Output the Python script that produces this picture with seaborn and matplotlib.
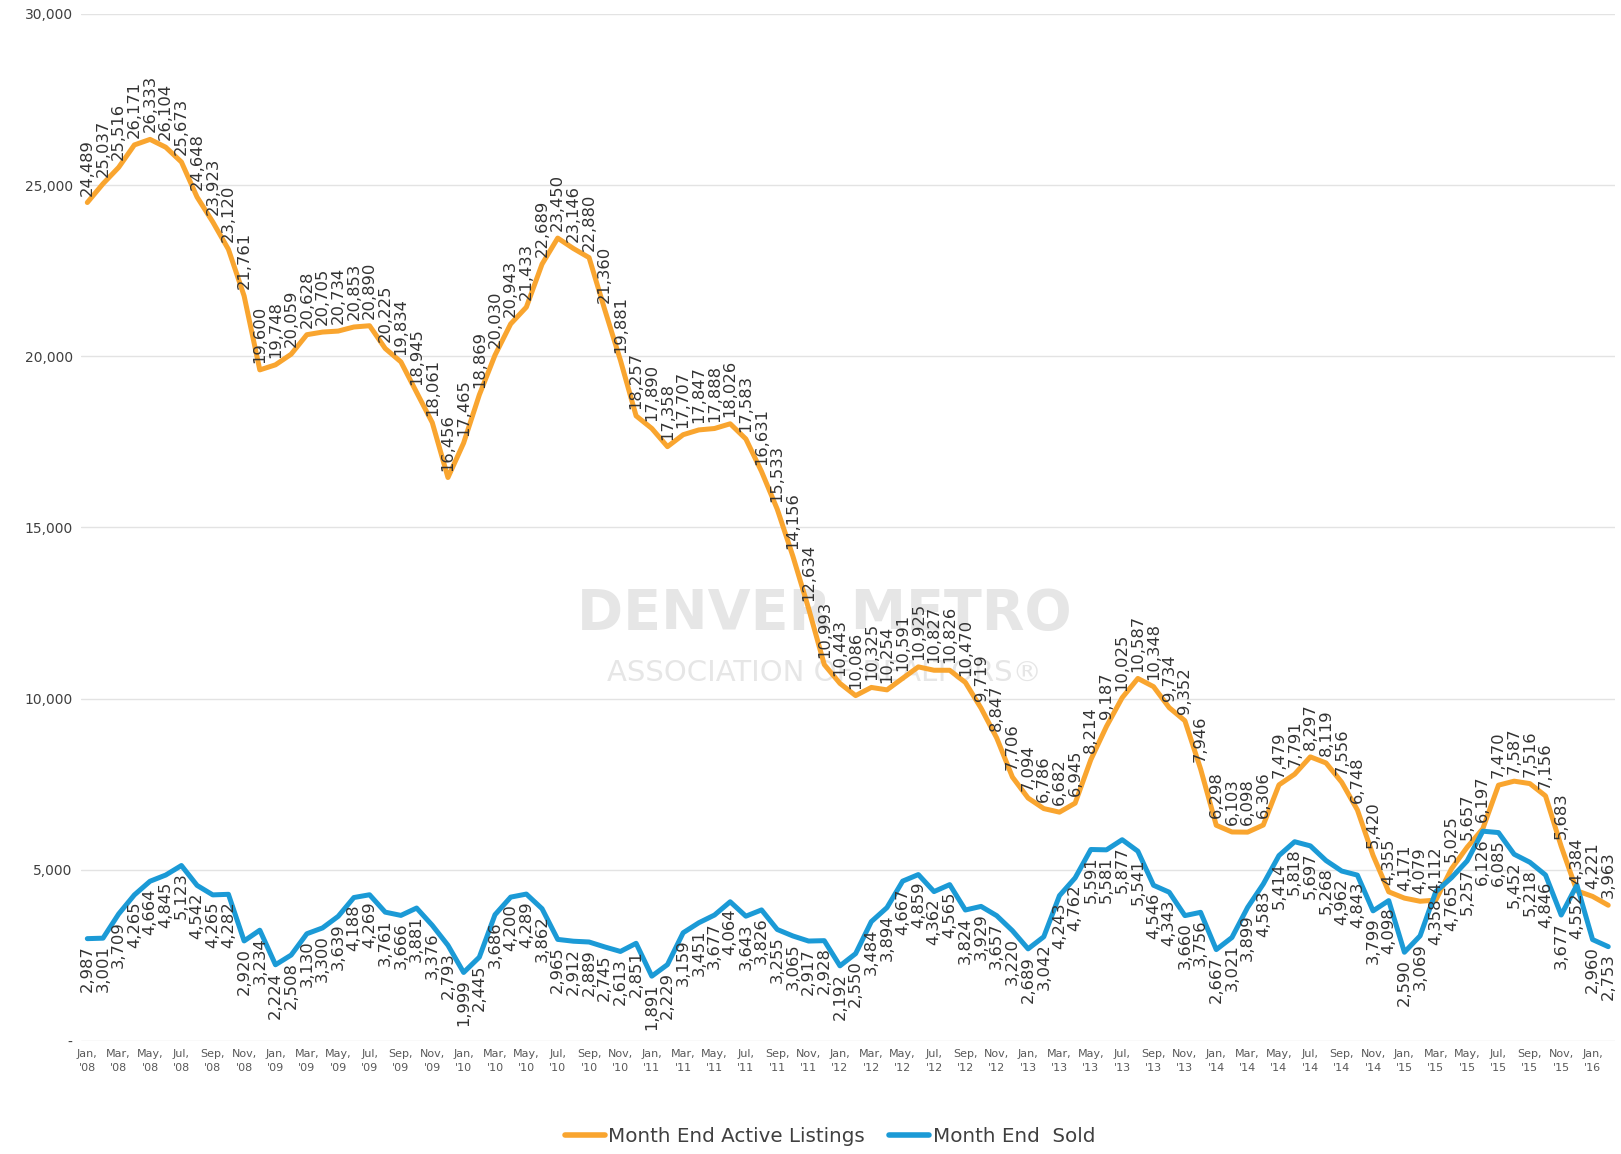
import numpy as np
import pandas as pd
import matplotlib
matplotlib.use("Agg")
import matplotlib.pyplot as plt
import seaborn as sns

# ---------------- data ----------------
months = ["Jan", "Feb", "Mar", "Apr", "May", "Jun", "Jul", "Aug", "Sep", "Oct", "Nov", "Dec"]
years = ["08", "09", "10", "11", "12", "13", "14", "15", "16"]
period_labels = [f"{m}, '{y}" for y in years for m in months][:98]

active_listings = [
    24489, 25037, 25516, 26171, 26333, 26104, 25673, 24648, 23923, 23120, 21761, 19600,
    19748, 20059, 20628, 20705, 20734, 20853, 20890, 20225, 19834, 18945, 18061, 16456,
    17465, 18869, 20030, 20943, 21433, 22689, 23450, 23146, 22880, 21360, 19881, 18257,
    17890, 17358, 17707, 17847, 17888, 18026, 17583, 16631, 15533, 14156, 12634, 10993,
    10443, 10086, 10325, 10254, 10591, 10925, 10827, 10826, 10470, 9719, 8847, 7706,
    7094, 6786, 6682, 6945, 8214, 9187, 10025, 10587, 10348, 9734, 9352, 7946,
    6298, 6103, 6098, 6306, 7479, 7791, 8297, 8119, 7556, 6748, 5420, 4355,
    4171, 4079, 4112, 5025, 5657, 6197, 7470, 7587, 7516, 7156, 5683, 4384,
    4221, 3963,
]

sold = [
    2987, 3001, 3709, 4265, 4664, 4845, 5123, 4542, 4265, 4282, 2920, 3234,
    2224, 2508, 3130, 3300, 3639, 4188, 4269, 3761, 3666, 3881, 3376, 2793,
    1999, 2445, 3686, 4200, 4289, 3862, 2965, 2912, 2889, 2745, 2613, 2851,
    1891, 2229, 3159, 3451, 3677, 4064, 3643, 3826, 3255, 3065, 2917, 2928,
    2192, 2550, 3484, 3894, 4667, 4859, 4362, 4565, 3824, 3929, 3657, 3220,
    2689, 3042, 4243, 4762, 5591, 5581, 5877, 5541, 4546, 4343, 3660, 3756,
    2667, 3021, 3899, 4583, 5414, 5818, 5697, 5268, 4962, 4843, 3799, 4098,
    2590, 3069, 4358, 4765, 5257, 6126, 6085, 5452, 5218, 4846, 3677, 4552,
    2960, 2753,
]

series_names = ["Month End Active Listings", "Month End  Sold"]
series_colors = ["#F9A52F", "#1B9AD6"]
y_ticks = [0, 5000, 10000, 15000, 20000, 25000, 30000]

# ---------------- frame ----------------
n = len(active_listings)
idx = np.arange(n)
df = pd.DataFrame({
    "idx": np.concatenate([idx, idx]),
    "value": active_listings + sold,
    "series": [series_names[0]] * n + [series_names[1]] * n,
})

sns.set_theme(style="white")
plt.rcParams["font.family"] = ["DejaVu Sans"]

fig = plt.figure(figsize=(16.21, 11.54), dpi=100)
ax = fig.add_axes([0.05, 0.098, 0.946, 0.890])

sns.lineplot(data=df, x="idx", y="value", hue="series",
             palette=dict(zip(series_names, series_colors)),
             linewidth=3.6, ax=ax, legend=False, zorder=3)

# watermark
ax.text(0.485, 0.416, "DENVER METRO", transform=ax.transAxes, ha="center", va="center",
        fontsize=40, fontweight="bold", color="#e6e6e6", zorder=0)
ax.text(0.485, 0.358, "ASSOCIATION OF REALTORS\u00ae", transform=ax.transAxes, ha="center",
        va="center", fontsize=21, color="#e6e6e6", zorder=0)

label_color = "#333333"
for i, v in enumerate(active_listings):
    ax.annotate(f"{v:,}", (i, v), xytext=(0, 5), textcoords="offset points",
                rotation=90, ha="center", va="bottom", fontsize=11.8,
                color=label_color, zorder=4)
for i, v in enumerate(sold):
    ax.annotate(f"{v:,}", (i, v), xytext=(0, -5), textcoords="offset points",
                rotation=90, ha="center", va="top", fontsize=11.8,
                color=label_color, zorder=4)

ax.set_xlim(-0.4, n - 0.6)
ax.set_ylim(0, 30000)
ax.set_yticks(y_ticks)
ax.set_yticklabels(["-" if t == 0 else f"{t:,}" for t in y_ticks],
                   fontsize=10, color="#404040")
ax.yaxis.grid(True, color="#e3e3e3", linewidth=1)
ax.xaxis.grid(False)

xt = idx[::2]
ax.set_xticks(xt)
ax.set_xticklabels([period_labels[i].replace(" ", "\n") for i in xt],
                   fontsize=8, color="#595959", linespacing=1.5)
ax.tick_params(axis="both", length=0, pad=6)
ax.set_xlabel("")
ax.set_ylabel("")
for s in ax.spines.values():
    s.set_visible(False)

handles = [plt.Line2D([], [], color=c, lw=4) for c in series_colors]
fig.legend(handles, series_names, loc="center", bbox_to_anchor=(0.512, 0.015),
           ncol=2, frameon=False, fontsize=14.3, labelcolor="#404040",
           handlelength=2.0, columnspacing=1.2, handletextpad=0.2)

fig.savefig("out.png", dpi=100)
